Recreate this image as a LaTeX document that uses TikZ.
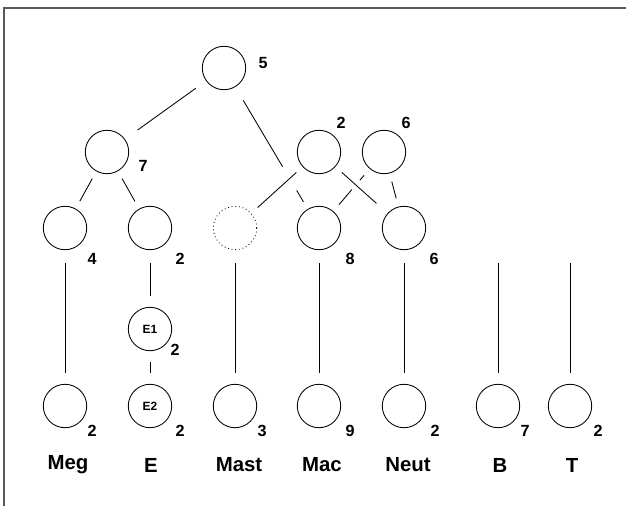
\documentclass[tikz,border=0pt]{standalone}
\usepackage{fontspec}
\setmainfont{Liberation Sans}
\usetikzlibrary{backgrounds}

\begin{document}
\begin{tikzpicture}[x=0.025cm,y=-0.025cm,
  taxon/.style={circle,draw,line width=0.6pt,minimum size=1.085cm,inner sep=0pt,font={\fontsize{8.5}{10}\selectfont\bfseries}},
  ghost/.style={taxon,dotted},
  num/.style={inner sep=0pt,font={\fontsize{11.5}{13}\selectfont\bfseries}},
  taxname/.style={inner sep=0pt,font={\fontsize{14.5}{17}\selectfont\bfseries}},
  link/.style={line width=0.6pt,shorten <=6pt,shorten >=6pt},
  stem/.style={line width=0.6pt,shorten <=9.5pt,shorten >=8pt},
  overpass/.style={preaction={draw=white,line width=#1}}]
  \useasboundingbox (0,0) rectangle (626,506);
  % frame
  \draw[gray!70!black,line width=1pt] (4,506) -- (4,8) -- (626,8);
  % ancestors
  \node[taxon] (root) at (224,68) {}; \node[num] (root-n) at (263,63) {5};
  \node[taxon] (anc7) at (107,152) {}; \node[num] (anc7-n) at (143,166) {7};
  \node[taxon] (anc2) at (319,152) {}; \node[num] (anc2-n) at (341,123) {2};
  \node[taxon] (anc6) at (384,152) {}; \node[num] (anc6-n) at (406,123) {6};
  % middle row
  \node[taxon] (meg1) at (65,228) {}; \node[num] (meg1-n) at (92,259) {4};
  \node[taxon] (e0) at (150,228) {}; \node[num] (e0-n) at (180,259) {2};
  \node[ghost] (mast1) at (235,228) {};
  \node[taxon] (mac1) at (319,228) {}; \node[num] (mac1-n) at (350,259) {8};
  \node[taxon] (neut1) at (404,228) {}; \node[num] (neut1-n) at (434,259) {6};
  \coordinate (b1) at (498,250);
  \coordinate (t1) at (570,250);
  % E split
  \node[taxon] (e1) at (150,329) {E1}; \node[num] (e1-n) at (175,350) {2};
  % bottom row
  \node[taxon] (meg) at (65,406) {}; \node[num] (meg-n) at (92,431) {2};
  \node[taxon] (e2) at (150,406) {E2}; \node[num] (e2-n) at (180,431) {2};
  \node[taxon] (mast) at (235,406) {}; \node[num] (mast-n) at (262,431) {3};
  \node[taxon] (mac) at (319,406) {}; \node[num] (mac-n) at (350,431) {9};
  \node[taxon] (neut) at (404,406) {}; \node[num] (neut-n) at (435,431) {2};
  \node[taxon] (b) at (498,406) {}; \node[num] (b-n) at (525,431) {7};
  \node[taxon] (t) at (570,406) {}; \node[num] (t-n) at (598,431) {2};
  % names
  \node[taxname] (meg-l) at (68,465) {Meg};
  \node[taxname] (e-l) at (151,465) {E};
  \node[taxname] (mast-l) at (239,465) {Mast};
  \node[taxname] (mac-l) at (322,465) {Mac};
  \node[taxname] (neut-l) at (408,465) {Neut};
  \node[taxname] (b-l) at (500,465) {B};
  \node[taxname] (t-l) at (572,465) {T};
  % edges, under the circles
  \begin{scope}[on background layer]
    \draw[link,shorten <=9pt,shorten >=11pt] (root) -- (anc7);
    \draw[link,shorten <=11pt] (root) -- (mac1);
    \draw[link] (anc6) -- (mac1);
    \draw[link] (anc6) -- (neut1);
    \draw[link,overpass=19pt] (anc2) -- (mast1);
    \draw[link,overpass=8.5pt,shorten >=10.5pt] (anc2) -- (neut1);
    \draw[link] (anc7) -- (meg1);
    \draw[link] (anc7) -- (e0);
    \draw[stem] (meg1) -- (meg);
    \draw[stem] (e0) -- (e1);
    \draw[stem,shorten <=8pt] (e1) -- (e2);
    \draw[stem] (mast1) -- (mast);
    \draw[stem] (mac1) -- (mac);
    \draw[stem] (neut1) -- (neut);
    \draw[stem] (b1) -- (b);
    \draw[stem] (t1) -- (t);
  \end{scope}
\end{tikzpicture}
\end{document}
